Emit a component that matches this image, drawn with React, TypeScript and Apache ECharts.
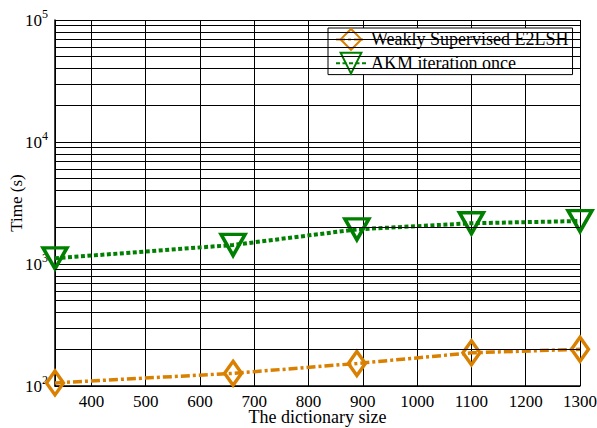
import React, { useEffect, useRef } from "react";
import * as echarts from "echarts";

const dictSizes = [333, 661, 889, 1100, 1300];
const e2lshTimes = [106, 127, 153, 187, 200];
const akmTimes = [1114, 1432, 1923, 2158, 2249];
const minorGridValues = [
  200, 300, 400, 500, 600, 700, 800, 900,
  2000, 3000, 4000, 5000, 6000, 7000, 8000, 9000,
  20000, 30000, 40000, 50000, 60000, 70000, 80000, 90000,
];
const seriesNames = ["Weakly Supervised E2LSH", "AKM iteration once"];

const FONT = "'Liberation Serif', 'Times New Roman', serif";
const ORANGE = "#d98000";
const GREEN = "#008000";

export default function App() {
  const ref = useRef<HTMLDivElement>(null);
  useEffect(() => {
    document.body.style.margin = "0";
    const chart = echarts.init(ref.current!, null, { renderer: "svg" });
    chart.setOption({
      animation: false,
      backgroundColor: "#fff",
      textStyle: { fontFamily: FONT },
      grid: { left: 55, top: 20, right: 17, bottom: 42, outerBoundsMode: "none", containLabel: false },
      legend: {
        left: 328,
        top: 28,
        orient: "vertical",
        backgroundColor: "#fff",
        borderColor: "#000",
        borderWidth: 1,
        padding: [0, 4, 0, 7],
        itemGap: 1,
        itemWidth: 30,
        itemHeight: 26,
        textStyle: { fontFamily: FONT, fontSize: 18, color: "#000" },
        data: seriesNames,
      },
      xAxis: {
        type: "value",
        min: dictSizes[0],
        max: 1300,
        splitNumber: 10,
        minInterval: 100,
        maxInterval: 100,
        name: "The dictionary size",
        nameLocation: "middle",
        nameMoveOverlap: false,
        nameGap: 22,
        nameTextStyle: { fontFamily: FONT, fontSize: 18, color: "#000" },
        axisLine: { lineStyle: { color: "#000", width: 1.5 } },
        axisTick: { show: false },
        axisLabel: {
          showMinLabel: false,
          margin: 7,
          fontFamily: FONT,
          fontSize: 17,
          color: "#000",
          formatter: (v: number) => String(Math.round(v)),
        },
        splitLine: { show: true, lineStyle: { color: "#000", width: 1 } },
      },
      yAxis: {
        type: "log",
        min: 100,
        max: 100000,
        logBase: 10,
        name: "Time (s)",
        nameLocation: "middle",
        nameMoveOverlap: false,
        nameGap: 30,
        nameTextStyle: { fontFamily: FONT, fontSize: 17, color: "#000" },
        axisLine: { lineStyle: { color: "#000", width: 1.5 } },
        axisTick: { show: false },
        axisLabel: {
          margin: 7,
          fontFamily: FONT,
          color: "#000",
          formatter: (v: number) => `{b|10}{s|${Math.round(Math.log10(v))}}`,
          rich: {
            b: { fontFamily: FONT, fontSize: 17, color: "#000" },
            s: {
              fontFamily: FONT,
              fontSize: 12,
              color: "#000",
              verticalAlign: "bottom",
              padding: [0, 0, 13, 0],
            },
          },
        },
        splitLine: { show: true, lineStyle: { color: "#000", width: 1 } },
      },
      series: [
        {
          name: "grid",
          type: "line",
          data: [],
          z: 1,
          silent: true,
          markLine: {
            silent: true,
            symbol: ["none", "none"],
            label: { show: false },
            lineStyle: { color: "#000", type: "solid", width: 1 },
            data: minorGridValues.map((v) => ({ yAxis: v })),
          },
        },
        {
          name: seriesNames[0],
          type: "line",
          data: dictSizes.map((x, i) => [x, e2lshTimes[i]]),
          symbol: "diamond",
          symbolSize: [17, 24],
          lineStyle: { color: ORANGE, width: 3.5, type: [9, 3, 3, 3] },
          itemStyle: { color: "rgba(255,255,255,0)", borderColor: ORANGE, borderWidth: 3.5 },
          z: 3,
        },
        {
          name: seriesNames[1],
          type: "line",
          data: dictSizes.map((x, i) => [x, akmTimes[i]]),
          symbol: "triangle",
          symbolRotate: 180,
          symbolSize: [24, 21],
          lineStyle: { color: GREEN, width: 4, type: [4, 2.5] },
          itemStyle: { color: "rgba(255,255,255,0)", borderColor: GREEN, borderWidth: 3.5 },
          z: 3,
        },
      ],
    });
    return () => chart.dispose();
  }, []);
  return <div ref={ref} style={{ width: 597, height: 428 }} />;
}
